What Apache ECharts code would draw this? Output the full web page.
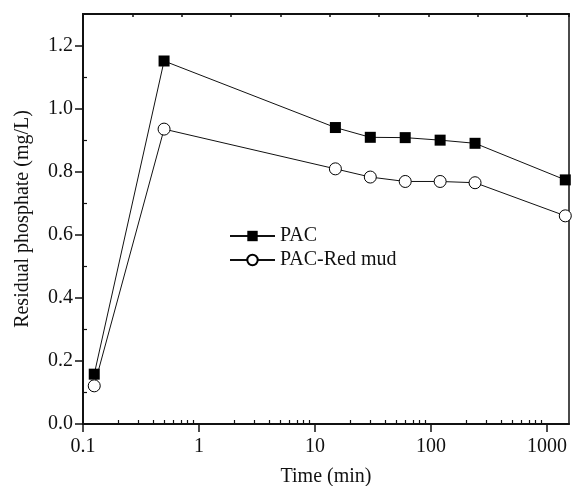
<!DOCTYPE html>
<html>
<head>
<meta charset="utf-8">
<script src="https://cdn.jsdelivr.net/npm/echarts@6/dist/echarts.min.js"></script>
<style>
  html, body { margin: 0; padding: 0; background: #fff; }
  #chart { width: 575px; height: 486px; }
</style>
</head>
<body>
<div id="chart"></div>
<script>
// time points (min)
var times = [0.125, 0.5, 15, 30, 60, 120, 240, 1440];
// residual phosphate (mg/L)
var pac = [0.158, 1.151, 0.940, 0.909, 0.908, 0.900, 0.890, 0.774];
var pacRedMud = [0.121, 0.935, 0.809, 0.783, 0.769, 0.769, 0.765, 0.660];

var xMajor = [0.1, 1, 10, 100, 1000];
var xMinor = [0.2, 0.3, 0.4, 0.5, 0.6, 0.7, 0.8, 0.9,
              2, 3, 4, 5, 6, 7, 8, 9,
              20, 30, 40, 50, 60, 70, 80, 90,
              200, 300, 400, 500, 600, 700, 800, 900];
var yMajor = [0, 0.2, 0.4, 0.6, 0.8, 1.0, 1.2];
var yMinor = [0.1, 0.3, 0.5, 0.7, 0.9, 1.1];

var font = 'Liberation Serif, Times New Roman, serif';
var ink = '#111';

function pairs(xs, ys) {
  return xs.map(function (x, i) { return [x, ys[i]]; });
}

var chart = echarts.init(document.getElementById('chart'));
chart.setOption({
  animation: false,
  textStyle: { fontFamily: font, color: ink },
  grid: {
    left: 83, right: 6, top: 14, bottom: 62,
    outerBoundsMode: 'none', containLabel: false,
    show: true, borderColor: ink, borderWidth: 1.5
  },
  legend: {
    orient: 'vertical',
    left: 224, top: 221,
    itemWidth: 45, itemHeight: 13, itemGap: 4,
    textStyle: { fontFamily: font, fontSize: 20, color: ink },
    data: ['PAC', 'PAC-Red mud']
  },
  xAxis: [{
    type: 'log', logBase: 10, min: 0.1, max: 1550,
    name: 'Time (min)', nameLocation: 'middle', nameGap: 43,
    nameTextStyle: { fontFamily: font, fontSize: 20, color: ink },
    axisLine: { lineStyle: { color: ink, width: 2 } },
    axisTick: { customValues: xMajor, length: 8, lineStyle: { color: ink, width: 1.5 } },
    axisLabel: {
      customValues: xMajor, margin: 13,
      fontFamily: font, fontSize: 20, color: ink,
      formatter: function (v) { return String(v); }
    },
    splitLine: { show: false }
  }, {
    type: 'log', logBase: 10, min: 0.1, max: 1550, position: 'bottom',
    axisLine: { show: false },
    axisTick: { customValues: xMinor, inside: true, length: 4, lineStyle: { color: ink, width: 1.2 } },
    axisLabel: { show: false },
    splitLine: { show: false }
  }, {
    type: 'value', min: 0, max: 9.85, interval: 1, position: 'top',
    axisLine: { lineStyle: { color: ink, width: 2 } },
    axisTick: { inside: true, length: 3, lineStyle: { color: ink, width: 1.5 } },
    axisLabel: { show: false },
    splitLine: { show: false }
  }],
  yAxis: [{
    type: 'value', min: 0, max: 1.3,
    name: 'Residual phosphate (mg/L)', nameLocation: 'middle', nameGap: 50,
    nameTextStyle: { fontFamily: font, fontSize: 20, color: ink },
    axisLine: { lineStyle: { color: ink, width: 2 } },
    axisTick: { customValues: yMajor, length: 8, lineStyle: { color: ink, width: 1.5 } },
    axisLabel: {
      customValues: yMajor, margin: 10,
      fontFamily: font, fontSize: 20, color: ink,
      formatter: function (v) { return v.toFixed(1); }
    },
    splitLine: { show: false }
  }, {
    type: 'value', min: 0, max: 1.3, position: 'left',
    axisLine: { show: false },
    axisTick: { customValues: yMinor, inside: true, length: 4, lineStyle: { color: ink, width: 1.2 } },
    axisLabel: { show: false },
    splitLine: { show: false }
  }],
  series: [{
    name: 'PAC', type: 'line',
    data: pairs(times, pac),
    symbol: 'rect', symbolSize: 11,
    lineStyle: { color: ink, width: 1 },
    itemStyle: { color: '#000', borderColor: '#000', borderWidth: 0 }
  }, {
    name: 'PAC-Red mud', type: 'line',
    data: pairs(times, pacRedMud),
    symbol: 'circle', symbolSize: 12,
    lineStyle: { color: ink, width: 1 },
    itemStyle: { color: '#fff', borderColor: '#000', borderWidth: 1 }
  }]
});
</script>
</body>
</html>
